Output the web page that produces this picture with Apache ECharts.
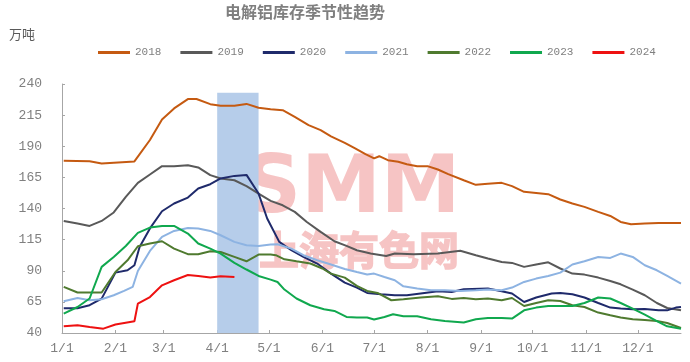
<!DOCTYPE html>
<html>
<head>
<meta charset="utf-8">
<script src="https://cdn.jsdelivr.net/npm/echarts@6/dist/echarts.min.js"></script>
<style>html,body{margin:0;padding:0;background:#fff;}#c{width:690px;height:362px;}</style>
</head>
<body>
<div id="c"></div>
<script>
// ---- data (day offsets from Jan 1, values in 万吨) ----
const titleText = '电解铝库存季节性趋势';
const unitText = '万吨';
const years = ['2018', '2019', '2020', '2021', '2022', '2023', '2024'];
const colors = ['#c55a11', '#595959', '#1f2a6b', '#8db3e2', '#4f7a2f', '#10a84e', '#ee1111'];

const days2018 = [1,16,23,42,51,58,65,73,78,86,92,100,107,114,121,128,135,143,150,156,164,170,176,181,184,189,195,200,206,212,218,224,233,240,247,255,261,268,275,282,289,296,303,311,318,324,330,338,346,359];
const vals2018 = [178.3,178,176.2,177.8,195,211.5,220.4,227.9,228,223.8,222.5,222.5,224,220.9,219.8,219,213.6,207,203,198,192.7,188.2,183.6,180.2,182,178.8,177.5,175.6,174,174,171.3,167.6,162.7,159,159.8,160.6,158,153.4,152.5,151.5,147.2,144,141.3,137.3,134,129.2,127.4,128,128.4,128.4];

const days2019 = [1,9,16,23,30,37,44,51,58,65,73,79,86,92,100,107,114,121,128,135,142,150,158,165,171,179,188,193,204,218,231,240,247,255,261,268,275,282,289,296,303,311,318,324,331,338,345,351,359];
const vals2019 = [130,127.9,126,130,136.8,149.3,160.6,167.3,174,174,174.8,173,166.8,164.1,162.7,157.9,152,146.1,142.6,137.3,129.2,121.2,113.7,110,106.5,103.8,101.9,103.8,103.3,103.8,106,102.5,99.8,97.1,96.3,93.1,95,96.8,91.8,87.7,86.9,84.5,81.8,79.1,74.9,70.3,64.1,60.1,58.2];

const days2020 = [1,9,16,23,31,38,42,45,51,58,65,73,79,86,92,100,107,114,119,126,133,140,148,156,164,171,177,185,193,200,208,218,226,233,247,255,261,268,275,284,289,296,303,311,318,324,331,338,346,351,356,359];
const vals2020 = [59.9,59.9,62.3,67.6,88.5,90.4,94.4,109.1,124,137.8,144,148.8,156.1,159.5,164.1,166.2,167,152,132,113.2,106.5,101.1,95.8,87.7,80.5,76.5,72.2,71.1,70.3,70.3,71.7,73.5,73,75.1,75.7,73.5,71.7,64.9,68.5,71.7,72.2,71.1,68.5,64.1,60.4,59.6,59,59.3,58.2,58.2,60.4,60.9];

const days2021 = [1,9,16,23,30,36,41,44,51,58,65,73,79,86,92,100,107,114,121,125,133,140,148,156,164,171,177,181,187,193,198,206,214,222,231,240,247,255,261,268,275,282,289,296,303,311,318,324,331,338,345,351,359];
const vals2021 = [65.5,68.1,66.3,67.1,70.3,73.8,77,89.8,105.9,117.2,122,124.4,123.9,122,118.5,113.2,110.5,109.9,111.1,111.3,107.8,102.5,98.4,95,91.4,89,87,87.7,85,82.4,77.5,75.7,74.3,74.3,73.8,74.3,74.9,74.3,76.5,81,83.7,85.8,88.5,95,97.6,101.1,100.3,103.8,101.1,94.4,90.4,85.8,79.7];

const days2022 = [1,9,16,23,31,38,44,51,58,65,73,79,86,92,100,107,114,121,124,129,136,144,151,156,164,171,177,183,191,198,208,218,226,233,240,247,255,261,268,275,282,289,296,303,311,318,324,331,338,345,351,359];
const vals2022 = [77,72.5,72.5,72.5,89,98.4,109.7,111.9,113.7,107.8,103.3,103.3,105.7,105.1,101.1,97.6,103,103,102.5,99.2,97.6,95.8,91.8,87.7,84.5,77.8,73.8,72.2,66.3,67.1,68.5,69.5,67.4,68.1,67.1,67.7,66.3,68.1,61.7,64.1,66.3,65.7,62.3,60.9,56.4,54.2,52.4,51,50.4,49.6,48,44];

const days2023 = [1,9,16,23,30,37,44,51,58,65,73,79,86,92,100,107,114,121,125,129,136,144,152,158,165,171,177,181,187,192,198,206,214,222,233,240,247,255,261,268,275,282,289,296,303,311,318,324,331,338,345,351,359];
const vals2023 = [55.6,60.9,67.7,93.1,101.1,109.9,120.4,124.7,126,126,119.9,111.9,107.8,103.8,96.3,91,85.8,82.9,81,74.9,67.7,62.3,59.1,57.7,52.9,52.4,52.4,50.8,52.9,55,53.4,53.4,51,49.6,48.4,51,52.1,52.1,51.6,58.2,60.4,61.7,61.7,61.7,64.1,68.5,67.7,64.1,59.6,54.8,49.6,45.4,43.5];

const days2024 = [1,9,16,24,31,42,44,51,58,65,73,79,86,92,100];
const vals2024 = [45.4,46.2,44.8,43.5,46.8,49.4,63.6,68.9,78.3,82.4,86.6,85.8,84.5,85.6,85];

const bandDays = [90, 114];       // shaded period (Apr 1 – Apr 24)
const bandRange = [40, 233];
const yTicks = {min: 40, max: 240, step: 25};
const axisEndDay = 359;

// ---- build ----
const BASE_Y = 2023;
const ts = d => new Date(BASE_Y, 0, 1 + d).getTime();
const allDays = [days2018, days2019, days2020, days2021, days2022, days2023, days2024];
const allVals = [vals2018, vals2019, vals2020, vals2021, vals2022, vals2023, vals2024];

const series = years.map((y, i) => ({
  name: y,
  type: 'line',
  showSymbol: false,
  symbol: 'none',
  z: 3,
  lineStyle: {width: 2, color: colors[i]},
  itemStyle: {color: colors[i]},
  data: allDays[i].map((d, j) => [ts(d), allVals[i][j]])
}));
series.unshift({
  name: 'band',
  type: 'line',
  data: [],
  z: 1,
  markArea: {
    silent: true,
    itemStyle: {color: '#b6cdea', opacity: 1},
    data: [[{xAxis: ts(bandDays[0]), yAxis: bandRange[0]}, {xAxis: ts(bandDays[1]), yAxis: bandRange[1]}]]
  }
});

const chart = echarts.init(document.getElementById('c'), null, {renderer: 'canvas'});
const mono = 'Liberation Mono';
const pink = '#f6c4c4';
chart.setOption({
  animation: false,
  backgroundColor: '#ffffff',
  title: {
    text: titleText, left: 225, top: 4, padding: 0,
    textStyle: {fontSize: 16, fontWeight: 'bold', color: '#7f7f7f', fontFamily: 'Noto Sans CJK SC'}
  },
  graphic: [
    {type: 'text', left: 9, top: 28, z: 10, style: {text: unitText, fontSize: 13, fill: '#595959', fontFamily: 'Noto Sans CJK SC'}},
    {type: 'text', z: 0, style: {text: 'SMM', x: 352, y: 191, align: 'center', verticalAlign: 'middle', fontSize: 80, fontWeight: 'bold', fontFamily: 'DejaVu Sans', fill: pink}},
    {type: 'text', z: 0, style: {text: '上海有色网', x: 359, y: 250, align: 'center', verticalAlign: 'middle', fontSize: 40, fontWeight: 'bold', fontFamily: 'Noto Sans CJK SC', fill: pink, stroke: pink, lineWidth: 1.5}}
  ],
  legend: {
    data: years, left: 93, top: 42, icon: 'rect', itemWidth: 32, itemHeight: 3, itemGap: 19,
    textStyle: {fontSize: 11, color: '#7f7f7f', fontFamily: mono}
  },
  grid: {left: 62, right: 9, top: 84, bottom: 29, containLabel: false},
  xAxis: {
    type: 'time',
    min: ts(0), max: ts(axisEndDay),
    splitNumber: 12,
    axisLine: {lineStyle: {color: '#a6a6a6', width: 1}},
    axisTick: {show: true, inside: true, length: 3, lineStyle: {color: '#a6a6a6'}},
    splitLine: {show: false},
    axisLabel: {
      margin: 9, fontSize: 13, color: '#808080', fontFamily: mono, hideOverlap: false,
      formatter: v => { const d = new Date(v); return (d.getMonth() + 1) + '/' + d.getDate(); }
    }
  },
  yAxis: {
    type: 'value', min: yTicks.min, max: yTicks.max, interval: yTicks.step,
    axisLine: {show: true, lineStyle: {color: '#a6a6a6', width: 1}},
    axisTick: {show: true, inside: true, length: 3, lineStyle: {color: '#a6a6a6'}},
    splitLine: {show: false},
    axisLabel: {margin: 20, fontSize: 13, color: '#808080', fontFamily: mono}
  },
  series: series
});
</script>
</body>
</html>
